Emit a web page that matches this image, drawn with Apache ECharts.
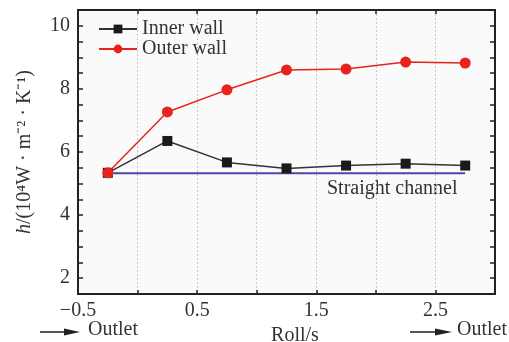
<!DOCTYPE html>
<html><head><meta charset="utf-8">
<script src="https://cdn.jsdelivr.net/npm/echarts@6/dist/echarts.min.js"></script>
<style>html,body{margin:0;padding:0;background:#fff}#c{width:509px;height:342px}</style>
</head><body><div id="c"></div>
<script>
var rollX = [-0.25, 0.25, 0.75, 1.25, 1.75, 2.25, 2.75];
var innerWall = [5.34, 6.35, 5.67, 5.48, 5.57, 5.63, 5.57];
var outerWall = [5.34, 7.27, 7.97, 8.60, 8.63, 8.85, 8.82];
var straightX = [-0.25, 2.75];
var straightY = [5.33, 5.33];
var xLabels = [-0.5, 0.5, 1.5, 2.5];
var yLabels = [2, 4, 6, 8, 10];

var FONT = 'Liberation Serif';
var FS = 20;
function pairs(xs, ys){ return xs.map(function(x,i){return [x, ys[i]];}); }
var chart = echarts.init(document.getElementById('c'));
var axisCol = '#222';
var txtCol = '#333';
chart.setOption({
  backgroundColor: '#fff',
  animation: false,
  textStyle: {fontFamily: FONT},
  grid: {left: 78, top: 10, right: 14, bottom: 48, show: true, backgroundColor: '#fafafa', borderWidth: 0,
         containLabel: false, outerBoundsMode: 'none'},
  legend: {
    left: 93, top: 14, orient: 'vertical', itemGap: 0, itemWidth: 38, itemHeight: 11,
    textStyle: {fontFamily: FONT, fontSize: FS, color: txtCol},
    data: ['Inner wall', 'Outer wall']
  },
  xAxis: [{
    type: 'value', min: -0.5, max: 3, interval: 0.5,
    axisLine: {show: true, onZero: false, lineStyle: {color: axisCol, width: 2}},
    axisTick: {show: true, inside: true, length: 4, lineStyle: {color: axisCol, width: 1.5}},
    axisLabel: {fontFamily: FONT, fontSize: FS, color: txtCol, margin: 7,
      formatter: function(v){ for (var i=0;i<xLabels.length;i++){ if (Math.abs(xLabels[i]-v)<1e-6) return (v<0?'\u2212':'') + Math.abs(v).toFixed(1); } return ''; }},
    splitLine: {show: true, lineStyle: {color: '#c8c8c8', type: [2,2], width: 1}},
    name: 'Roll/s', nameLocation: 'middle', nameGap: 25,
    nameTextStyle: {fontFamily: FONT, fontSize: FS, color: txtCol, padding: [0,0,0,17]}
  }, {
    type: 'value', position: 'top', min: -0.5, max: 3, interval: 0.5,
    axisLine: {show: true, onZero: false, lineStyle: {color: axisCol, width: 2}},
    axisTick: {show: true, inside: true, length: 4, lineStyle: {color: axisCol, width: 1.5}},
    axisLabel: {show: false}, splitLine: {show: false}
  }],
  yAxis: [{
    type: 'value', min: 1.5, max: 10.5, interval: 0.5,
    axisLine: {show: true, onZero: false, lineStyle: {color: axisCol, width: 2}},
    axisTick: {show: true, inside: true, length: 5, lineStyle: {color: axisCol, width: 1.5}},
    axisLabel: {fontFamily: FONT, fontSize: FS, color: txtCol, margin: 8,
      formatter: function(v){ return yLabels.indexOf(Math.round(v*1000)/1000) >= 0 ? String(v) : ''; }},
    splitLine: {show: false},
    name: '{i|h}{n|/(10\u2074W \u00b7 m\u207b\u00b2 \u00b7 K\u207b\u00b9)}',
    nameLocation: 'middle', nameGap: 43, nameRotate: 90,
    nameTextStyle: {fontFamily: FONT, fontSize: FS, color: txtCol,
      rich: {i: {fontFamily: FONT, fontSize: FS, fontStyle: 'italic', color: txtCol},
             n: {fontFamily: FONT, fontSize: FS, color: txtCol}}}
  }, {
    type: 'value', position: 'right', min: 1.5, max: 10.5, interval: 0.5,
    axisLine: {show: true, onZero: false, lineStyle: {color: axisCol, width: 2}},
    axisTick: {show: true, inside: true, length: 5, lineStyle: {color: axisCol, width: 1.5}},
    axisLabel: {show: false}, splitLine: {show: false}
  }],
  series: [{
    name: 'Straight channel', type: 'line', data: pairs(straightX, straightY),
    symbol: 'none', lineStyle: {color: '#4b47a8', width: 2}, z: 1
  }, {
    name: 'Inner wall', type: 'line', data: pairs(rollX, innerWall),
    symbol: 'rect', symbolSize: 10, color: '#1a1a1a',
    itemStyle: {color: '#1a1a1a'}, lineStyle: {color: '#333', width: 1.5}, z: 3
  }, {
    name: 'Outer wall', type: 'line', data: pairs(rollX, outerWall),
    symbol: 'circle', symbolSize: 11, color: '#e8231e',
    itemStyle: {color: '#e8231e'}, lineStyle: {color: '#e8231e', width: 1.5}, z: 4
  }],
  graphic: [
    {type: 'text', x: 327, y: 189, style: {text: 'Straight channel', font: FS + 'px "Liberation Serif"', fill: txtCol, verticalAlign: 'middle'}},
    {type: 'line', shape: {x1: 40, y1: 332, x2: 68, y2: 332}, style: {stroke: '#222', lineWidth: 1.5}},
    {type: 'polygon', shape: {points: [[64,328.5],[80,332],[64,335.5]]}, style: {fill: '#222'}},
    {type: 'text', x: 88, y: 330, style: {text: 'Outlet', font: FS + 'px "Liberation Serif"', fill: txtCol, verticalAlign: 'middle'}},
    {type: 'line', shape: {x1: 410, y1: 332, x2: 438, y2: 332}, style: {stroke: '#222', lineWidth: 1.5}},
    {type: 'polygon', shape: {points: [[435,328.5],[452,332],[435,335.5]]}, style: {fill: '#222'}},
    {type: 'text', x: 457, y: 330, style: {text: 'Outlet', font: FS + 'px "Liberation Serif"', fill: txtCol, verticalAlign: 'middle'}}
  ]
});
</script></body></html>
